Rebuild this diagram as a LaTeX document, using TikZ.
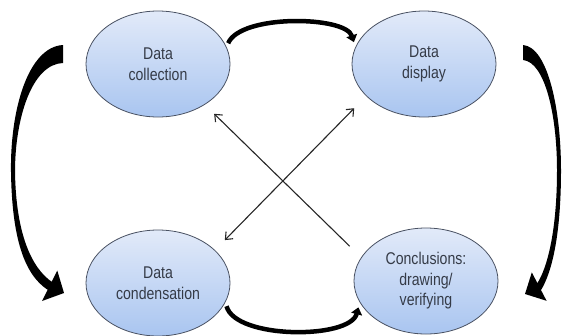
\documentclass[tikz,border=0pt]{standalone}
\usepackage{fontspec}
\setmainfont{Liberation Sans}
\newfontfamily\slimsans[FakeStretch=0.83]{Liberation Sans}
\usepackage{tikz}
\usetikzlibrary{shapes.geometric, arrows.meta, positioning}

\begin{document}
\begin{tikzpicture}[x=1pt, y=-1pt, font=\slimsans\fontsize{17}{20.5}\selectfont,
  phase/.style={ellipse, draw=ringgray, line width=0.8pt, top color=paleblue, bottom color=midblue,
    minimum width=144pt, minimum height=106pt, inner sep=0pt, align=center, text=inkgray},
  cross/.style={line width=1.1pt, draw=black!85},
  sweep/.style={line width=4.5pt, -{Triangle[length=7pt, width=11pt]}},
  bigsweep/.style={fill=black}]
  \definecolor{paleblue}{HTML}{E2EAF9}
  \definecolor{midblue}{HTML}{A9C5F0}
  \definecolor{ringgray}{HTML}{4A5263}
  \definecolor{inkgray}{HTML}{353B47}

  \useasboundingbox (0,0) rectangle (564,335);

  \node[phase] (coll) at (158,64) {Data\\collection};
  \node[phase] (disp) at (424,64) {Data\\display};
  \node[phase] (cond) at (158,283) {Data\\condensation};
  \node[phase] (concl) at (426,281) {Conclusions:\\drawing/\\verifying};

  % the two short loops
  \draw[sweep, shorten <=4pt, shorten >=5pt] (coll.14) .. controls +(14,-33) and +(-10,-31) .. (disp.166);
  \draw[sweep, shorten <=4pt, shorten >=5pt] (cond.-16) .. controls +(10,37) and +(-10,37) .. (concl.-162);

  % the crossing lines
  \draw[cross, -{Straight Barb[length=6pt, width=10pt]}, shorten <=16pt, shorten >=13pt] (concl.160) -- (coll.-41);
  \draw[cross, {Straight Barb[length=6pt, width=10pt]}-{Straight Barb[length=6pt, width=10pt]},
    shorten <=14pt, shorten >=17pt] (cond.30) -- (disp.209);

  % tapered side arrows
  \fill[bigsweep] (63,45) .. controls (28,47) and (10,110) .. (11,172)
    .. controls (12,240) and (25,275) .. (47.7,289.8) -- (42,301) -- (64,293) -- (57.3,270.6) -- (51.7,281.8)
    .. controls (32,268) and (16,235) .. (15,172) .. controls (15,118) and (32,64) .. (63,63) -- cycle;
  \fill[bigsweep] (523,45) .. controls (548,47) and (561,110) .. (561,170)
    .. controls (561,235) and (552,272) .. (541,290.1) -- (546.6,300.8) -- (525,294) -- (531.8,272.4) -- (537.4,283.1)
    .. controls (547,268) and (557,232) .. (557,170) .. controls (557,115) and (545,62) .. (523,60) -- cycle;
\end{tikzpicture}
\end{document}
